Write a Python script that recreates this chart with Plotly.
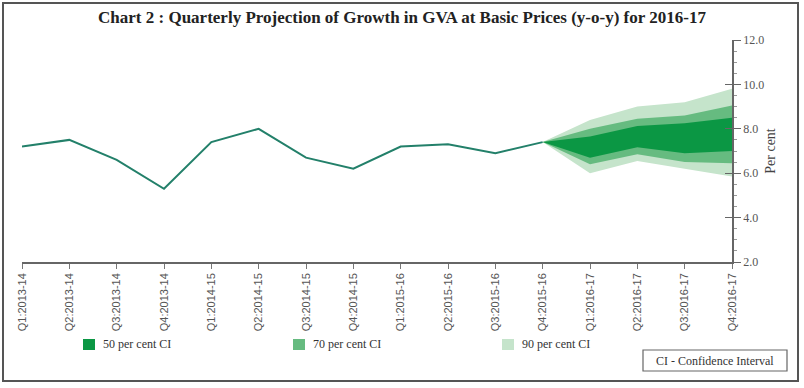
import plotly.graph_objects as go

quarters = ["Q1:2013-14", "Q2:2013-14", "Q3:2013-14", "Q4:2013-14",
            "Q1:2014-15", "Q2:2014-15", "Q3:2014-15", "Q4:2014-15",
            "Q1:2015-16", "Q2:2015-16", "Q3:2015-16", "Q4:2015-16",
            "Q1:2016-17", "Q2:2016-17", "Q3:2016-17", "Q4:2016-17"]
actual = [7.2, 7.5, 6.6, 5.3, 7.4, 8.0, 6.7, 6.2, 7.2, 7.3, 6.9, 7.4]

fan_quarters = ["Q4:2015-16", "Q1:2016-17", "Q2:2016-17", "Q3:2016-17", "Q4:2016-17"]
ci90_upper = [7.4, 8.4, 9.0, 9.2, 9.8]
ci90_lower = [7.4, 6.0, 6.55, 6.2, 5.85]
ci70_upper = [7.4, 8.0, 8.45, 8.6, 9.05]
ci70_lower = [7.4, 6.4, 6.85, 6.5, 6.45]
ci50_upper = [7.4, 7.65, 8.13, 8.25, 8.5]
ci50_lower = [7.4, 6.7, 7.17, 6.9, 7.0]

y_ticks = [2, 4, 6, 8, 10, 12]
y_ticklabels = ["2.0", "4.0", "6.0", "8.0", "10.0", "12.0"]

legend_labels = ["50 per cent CI", "70 per cent CI", "90 per cent CI"]
c50, c70, c90 = "#0b9744", "#66bb80", "#c5e4cb"
line_color = "#23806a"
SERIF = "Liberation Serif, DejaVu Serif, serif"

fig = go.Figure()


def band(upper, lower, color):
    fig.add_trace(go.Scatter(
        x=fan_quarters + fan_quarters[::-1],
        y=upper + lower[::-1],
        fill="toself", fillcolor=color, mode="lines",
        line=dict(width=0, color=color), showlegend=False, hoverinfo="skip"))


band(ci90_upper, ci90_lower, c90)
band(ci70_upper, ci70_lower, c70)
band(ci50_upper, ci50_lower, c50)

fig.add_trace(go.Scatter(x=quarters[:len(actual)], y=actual, mode="lines",
                         line=dict(color=line_color, width=2), showlegend=False))

# overlay axis for the inner half of the crossing ticks
fig.add_trace(go.Scatter(x=[quarters[0]], y=[None], yaxis="y2", showlegend=False))

L, R, T, B = 22, 72, 40, 126
W, H = 804, 388
pw, ph = W - L - R, H - T - B


def px(x):
    return (x - L) / pw


def py(y):
    return (H - B - y) / ph


fig.update_layout(
    width=W, height=H,
    margin=dict(l=L, r=R, t=T, b=B),
    paper_bgcolor="white", plot_bgcolor="white",
    showlegend=False,
    title=dict(text="<b>Chart 2 : Quarterly Projection of Growth in GVA at Basic Prices (y-o-y) for 2016-17</b>",
               x=0.5, xanchor="center", y=1 - 17 / H, yanchor="middle",
               font=dict(family=SERIF, size=17, color="#222")),
    xaxis=dict(type="category", categoryorder="array", categoryarray=quarters,
               range=[0, len(quarters) - 1],
               tickmode="array", tickvals=quarters, ticktext=quarters,
               tickangle=-90, ticks="outside", ticklen=5, tickcolor="#777",
               showline=True, linecolor="#666", linewidth=1.5,
               showgrid=False, zeroline=False,
               tickfont=dict(family="Liberation Sans, Arial, sans-serif", size=11, color="#555")),
    yaxis=dict(range=[2, 12], side="right", tickmode="array", tickvals=y_ticks,
               ticktext=y_ticklabels, ticks="outside", ticklen=7, tickcolor="#666",
               showline=True, linecolor="#666", linewidth=1.5,
               showgrid=False, zeroline=False,
               minor=dict(dtick=0.5, ticks="outside", ticklen=3, tickcolor="#999"),
               tickfont=dict(family=SERIF, size=12, color="#555"),
               title=dict(text="Per cent", standoff=2,
                          font=dict(family=SERIF, size=14, color="#444"))),
    yaxis2=dict(range=[2, 12], overlaying="y", side="right", anchor="x",
                tickmode="array", tickvals=y_ticks, ticks="inside", ticklen=7,
                tickcolor="#666", showticklabels=False, showgrid=False, zeroline=False,
                showline=False),
)

shapes = [
    # outer frame
    dict(type="rect", xref="paper", yref="paper", x0=px(3), x1=px(798), y0=py(381), y1=py(3),
         line=dict(color="#555", width=2), fillcolor="rgba(0,0,0,0)", layer="below"),
    # CI box
    dict(type="rect", xref="paper", yref="paper", x0=px(643), x1=px(787), y0=py(371), y1=py(350),
         line=dict(color="#666", width=1.2), fillcolor="white"),
]
annotations = [
    dict(text="CI - Confidence Interval", xref="paper", yref="paper",
         x=px(715), y=py(360.5), xanchor="center", yanchor="middle", showarrow=False,
         font=dict(family=SERIF, size=12, color="#333")),
]
for label, color, x0 in zip(legend_labels, [c50, c70, c90], [83, 293, 502]):
    shapes.append(dict(type="rect", xref="paper", yref="paper",
                       x0=px(x0), x1=px(x0 + 12), y0=py(350), y1=py(339),
                       line=dict(width=0), fillcolor=color))
    annotations.append(dict(text=label, xref="paper", yref="paper",
                            x=px(x0 + 18), y=py(344.5), xanchor="left", yanchor="middle",
                            showarrow=False,
                            font=dict(family=SERIF, size=12, color="#333")))

fig.update_layout(shapes=shapes, annotations=annotations)

fig.write_html("out.html", config={"displayModeBar": False},
               post_script="document.body.style.margin='0';document.body.style.overflow='hidden';")
